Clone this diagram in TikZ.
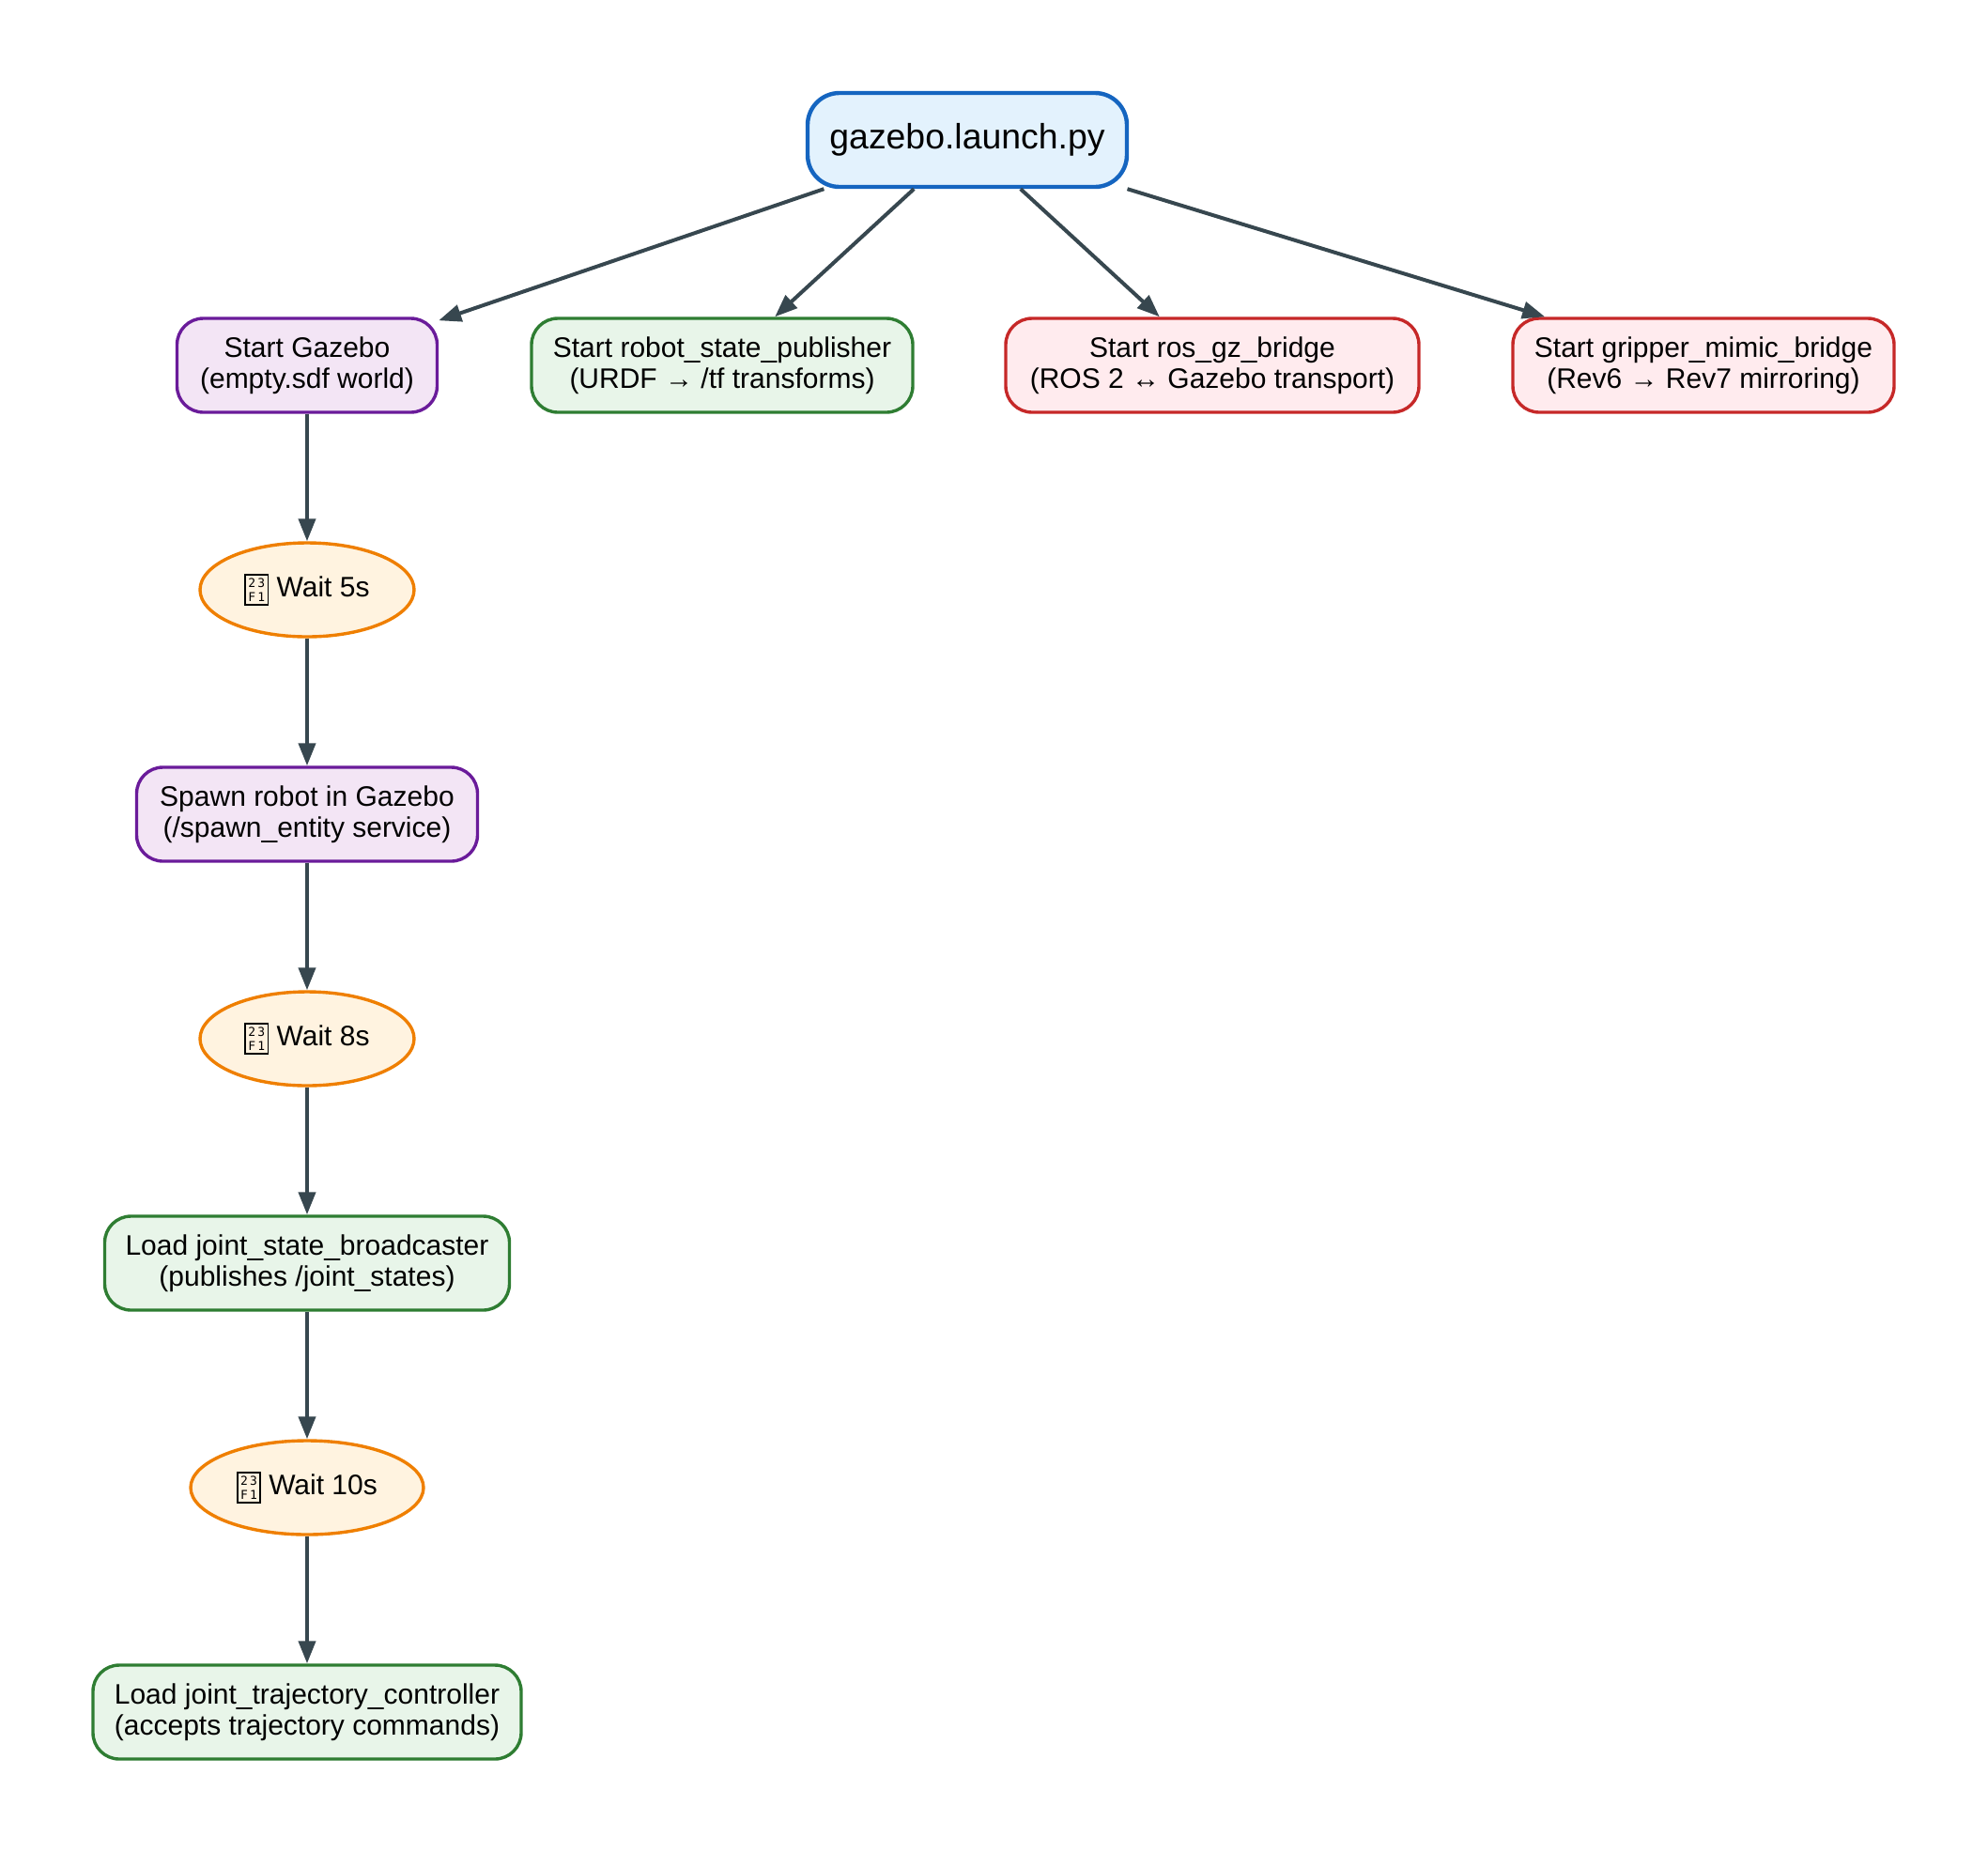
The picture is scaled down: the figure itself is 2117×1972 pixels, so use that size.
\documentclass[tikz,border=0pt]{standalone}
\usepackage{fontspec}
\setmainfont{Liberation Sans}
\setmonofont{DejaVu Sans Mono}
\usetikzlibrary{arrows.meta,shapes.geometric}
\definecolor{launchline}{HTML}{1565C0}
\definecolor{launchfill}{HTML}{E3F2FD}
\definecolor{simline}{HTML}{6A1B9A}
\definecolor{simfill}{HTML}{F3E5F5}
\definecolor{ctrlline}{HTML}{2E7D32}
\definecolor{ctrlfill}{HTML}{E8F5E9}
\definecolor{bridgeline}{HTML}{C62828}
\definecolor{bridgefill}{HTML}{FFEBEE}
\definecolor{waitline}{HTML}{EF7F00}
\definecolor{waitfill}{HTML}{FFF3E0}
\definecolor{edgegray}{HTML}{37474F}
\newcommand\tofu{\raisebox{-2.8pt}{\setlength\fboxsep{1.2pt}\setlength\fboxrule{0.8pt}\fbox{\fontsize{6.5}{9}\selectfont\ttfamily\shortstack{2\,3\\F\,1}}}}
\tikzstyle{box}=[rectangle,rounded corners=14pt,line width=1.7pt,align=center,minimum height=50pt,inner sep=0pt,font=\fontsize{15}{16.5}\selectfont]
\tikzstyle{launch box}=[box,draw=launchline,fill=launchfill,line width=2.2pt,rounded corners=17pt,font=\fontsize{18.7}{20}\selectfont]
\tikzstyle{sim box}=[box,draw=simline,fill=simfill]
\tikzstyle{ctrl box}=[box,draw=ctrlline,fill=ctrlfill]
\tikzstyle{bridge box}=[box,draw=bridgeline,fill=bridgefill]
\tikzstyle{wait}=[ellipse,draw=waitline,fill=waitfill,line width=1.7pt,minimum height=50pt,inner sep=0pt,font=\fontsize{15}{16.5}\selectfont]
\tikzstyle{edge}=[draw,edgegray,line width=2pt,-{Triangle[length=12pt,width=9pt]}]

\begin{document}
\begin{tikzpicture}[x=0.5pt,y=-0.5pt]
    \useasboundingbox (0,0) rectangle (2117,1972);
    % launch file at the top
    \node[launch box,minimum width=170pt] (launch) at (1030,149) {gazebo.launch.py};

    % nodes started at once
    \node[sim box,minimum width=138.5pt] (gazebo) at (327,389) {Start Gazebo\\(empty.sdf world)};
    \node[ctrl box,minimum width=203pt] (rsp) at (769,389) {Start robot\_state\_publisher\\(URDF → /tf transforms)};
    \node[bridge box,minimum width=220pt] (gzbridge) at (1291,389) {Start ros\_gz\_bridge\\(ROS 2 ↔ Gazebo transport)};
    \node[bridge box,minimum width=203pt] (mimic) at (1814,389) {Start gripper\_mimic\_bridge\\(Rev6 → Rev7 mirroring)};

    % timed chain below Gazebo
    \node[wait,minimum width=114pt] (wait5) at (327,628) {\tofu\ Wait 5s};
    \node[sim box,minimum width=181.5pt] (spawn) at (327,867) {Spawn robot in Gazebo\\(/spawn\_entity service)};
    \node[wait,minimum width=114pt] (wait8) at (327,1106) {\tofu\ Wait 8s};
    \node[ctrl box,minimum width=215.5pt] (jsb) at (327,1345) {Load joint\_state\_broadcaster\\(publishes /joint\_states)};
    \node[wait,minimum width=124pt] (wait10) at (327,1584) {\tofu\ Wait 10s};
    \node[ctrl box,minimum width=228pt] (jtc) at (327,1823) {Load joint\_trajectory\_controller\\(accepts trajectory commands)};

    % Connect nodes with edges
    \foreach \source/\dest in {launch/gazebo,launch/rsp,launch/gzbridge,launch/mimic,gazebo/wait5,wait5/spawn,spawn/wait8,wait8/jsb,jsb/wait10,wait10/jtc}
        \path[edge] (\source) -- (\dest);
\end{tikzpicture}
\end{document}
